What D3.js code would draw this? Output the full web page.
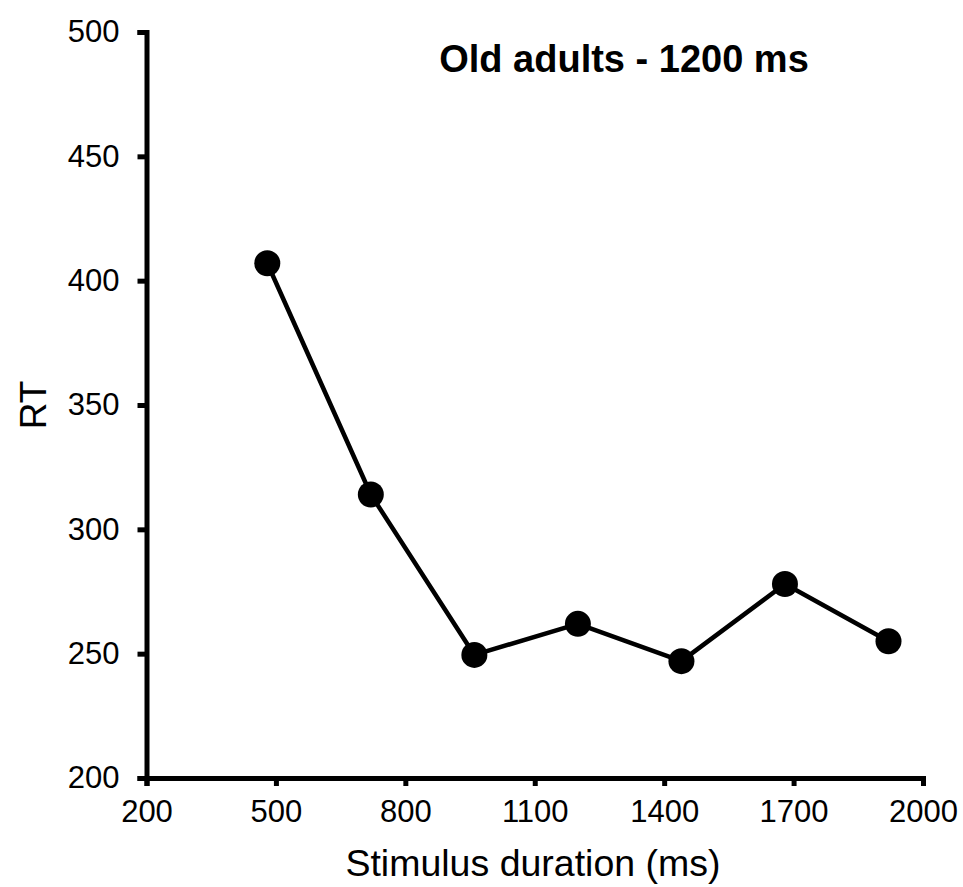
<!DOCTYPE html>
<html>
<head>
<meta charset="utf-8">
<script src="https://cdn.jsdelivr.net/npm/d3@7"></script>
<style>
  body { margin: 0; background: #fff; }
  text { font-family: "Liberation Sans", Arial, sans-serif; fill: #000; }
</style>
</head>
<body>
<svg id="chart" width="963" height="887"></svg>
<script>
// stimulus durations (ms) and mean RT
const durations = [480, 720, 960, 1200, 1440, 1680, 1920];
const rtValues = [407, 314, 249.5, 262, 247, 278, 255];
const xTicks = [200, 500, 800, 1100, 1400, 1700, 2000];
const yTicks = [200, 250, 300, 350, 400, 450, 500];
const titleText = "Old adults - 1200 ms";

const svg = d3.select("#chart");
const x = d3.scaleLinear().domain([200, 2000]).range([146.5, 923]);
const y = d3.scaleLinear().domain([200, 500]).range([778, 32]);

// --- axes ---
const xAxis = svg.append("g").attr("transform", `translate(0,${y(200)})`)
    .call(d3.axisBottom(x).tickValues(xTicks).tickSize(8).tickPadding(14).tickFormat(d3.format("d")));
const yAxis = svg.append("g").attr("transform", `translate(${x(200)},0)`)
    .call(d3.axisLeft(y).tickValues(yTicks).tickSize(9).tickPadding(18).tickFormat(d3.format("d")));

[xAxis, yAxis].forEach(g => {
    g.select(".domain").attr("stroke", "#000").attr("stroke-width", 5);
    g.selectAll(".tick line").attr("stroke", "#000").attr("stroke-width", 5);
    g.selectAll(".tick text").style("font-size", "31px").attr("fill", "#000");
});

// --- line + points ---
const pts = durations.map((d, i) => [d, rtValues[i]]);
svg.append("path").datum(pts)
    .attr("fill", "none").attr("stroke", "#000").attr("stroke-width", 4.5).attr("stroke-linejoin", "round")
    .attr("d", d3.line().x(d => x(d[0])).y(d => y(d[1])));
svg.append("g").selectAll("circle").data(pts).join("circle")
    .attr("cx", d => x(d[0])).attr("cy", d => y(d[1])).attr("r", 13).attr("fill", "#000");

// --- labels ---
svg.append("text").attr("x", 624).attr("y", 72).attr("text-anchor", "middle")
    .style("font-size", "38px").style("font-weight", "bold").text(titleText);
svg.append("text").attr("x", 533).attr("y", 876).attr("text-anchor", "middle")
    .style("font-size", "37.5px").text("Stimulus duration (ms)");
svg.append("text").attr("transform", `translate(46,${(y(200) + y(500)) / 2}) rotate(-90)`)
    .attr("text-anchor", "middle").style("font-size", "37px").text("RT");
</script>
</body>
</html>
